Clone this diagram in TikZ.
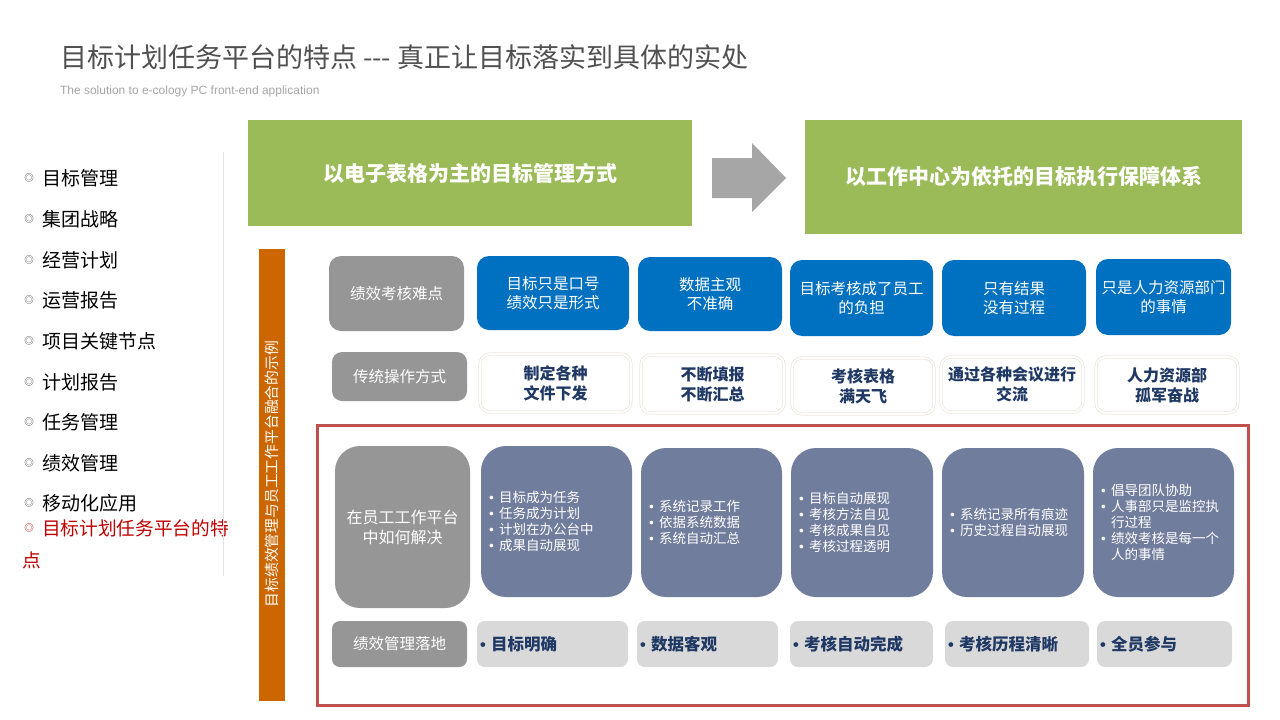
\documentclass[tikz,border=0pt]{standalone}
\usepackage{fontspec}
\setmainfont{Noto Sans CJK SC}
\newfontfamily\latinsans{Liberation Sans}
\definecolor{titlegray}{RGB}{80,80,80}
\definecolor{subgray}{RGB}{166,166,166}
\definecolor{hgreen}{RGB}{155,187,89}
\definecolor{arrowgray}{RGB}{166,166,166}
\definecolor{barorange}{RGB}{204,102,0}
\definecolor{boxgray}{RGB}{150,150,150}
\definecolor{boxblue}{RGB}{0,112,192}
\definecolor{slate}{RGB}{113,125,157}
\definecolor{lightgray}{RGB}{217,217,217}
\definecolor{navy}{RGB}{31,56,100}
\definecolor{framered}{RGB}{192,80,77}
\definecolor{beige}{RGB}{236,233,222}
\definecolor{seplight}{RGB}{228,228,228}
\definecolor{listred}{RGB}{192,0,0}
\definecolor{dotcol}{RGB}{60,60,60}
\newcommand\fs[2]{\fontsize{#1}{#2}\selectfont}
\newcommand\bl[1]{\makebox[10pt][l]{\latinsans •}#1}
\newcommand\blc[1]{\hspace*{10pt}#1}
\newcommand\blb[1]{\makebox[11pt][l]{\latinsans •}#1}
\begin{document}
\begin{tikzpicture}[x=1pt,y=-1pt,
  every node/.style={inner sep=0pt, outer sep=0pt},
  listitem/.style={anchor=west, text=black, font=\fs{19}{22}},
  listdot/.style={text=dotcol, font=\fs{9.5}{10}},
  header/.style={fill=hgreen, text=white, font=\fs{21}{24}\bfseries, align=center},
  graybox/.style={fill=boxgray, rounded corners=12pt, text=white, font=\fs{15.5}{19}, align=center},
  bluebox/.style={fill=boxblue, rounded corners=12pt, text=white, font=\fs{15.5}{19}, align=center},
  whitebox/.style={draw=beige, line width=0.8pt, double=white, double distance=1.6pt, fill=white, rounded corners=10pt, text=navy, font=\fs{16}{20}\bfseries, align=center},
  slatebox/.style={fill=slate, rounded corners=25pt, text=white, font=\fs{13.5}{16}, align=left, inner xsep=8pt},
  landbox/.style={fill=lightgray, rounded corners=8pt, text=navy, font=\fs{16.5}{20}\bfseries, align=left, inner xsep=3pt}
]
\useasboundingbox[fill=white] (0,0) rectangle (1280,720);

% title
\node[anchor=west, text=titlegray, font=\fs{27}{32}] (title) at (60,57) {目标计划任务平台的特点 -{}-{}- 真正让目标落实到具体的实处};
\node[anchor=west, text=subgray, font=\latinsans\fs{12}{14}] (subtitle) at (60,91) {The solution to e-cology PC front-end application};

% left list
\foreach \y/\t/\n in {178/目标管理/1, 219/集团战略/2, 260/经营计划/3, 300/运营报告/4, 341/项目关键节点/5, 382/计划报告/6, 422/任务管理/7, 463/绩效管理/8, 503/移动化应用/9}{
  \node[listdot] (dot\n) at (29,\y) {◎};
  \node[listitem] (item\n) at (42,\y) {\t};
}
\node[listdot, text=listred] (dot10) at (29,528) {◎};
\node[listitem, text=listred, font=\fs{18.7}{22}] (item10) at (42,528) {目标计划任务平台的特};
\node[listitem, text=listred, font=\fs{18.7}{22}] (item10b) at (23,560) {点};
\draw[seplight, line width=1pt] (223,152) -- (223,576);

% headers
\node[header, minimum width=444pt, minimum height=106pt] (h1) at (470,173) {以电子表格为主的目标管理方式};
\node[header, minimum width=437pt, minimum height=114pt] (h2) at (1023.5,177) {以工作中心为依托的目标执行保障体系};
\fill[arrowgray] (712,158) -- (752,158) -- (752,143) -- (786,178) -- (752,212) -- (752,198) -- (712,198) -- cycle;

% orange bar
\node[fill=barorange, minimum width=26pt, minimum height=452pt] (bar) at (272,475) {};
\node[rotate=90, text=white, font=\fs{14.8}{17}] (bartext) at (272,474) {目标绩效管理与员工工作平台融合的示例};

% row 1
\node[graybox, minimum width=135pt, minimum height=75pt] (g1) at (396.5,293.5) {绩效考核难点};
\node[bluebox, minimum width=152pt, minimum height=74pt] (b1) at (553,293) {目标只是口号\\绩效只是形式};
\node[bluebox, minimum width=144pt, minimum height=74pt] (b2) at (710,294) {数据主观\\不准确};
\node[bluebox, minimum width=143pt, minimum height=76pt] (b3) at (861.5,298) {目标考核成了员工\\的负担};
\node[bluebox, minimum width=144pt, minimum height=76pt] (b4) at (1014,298) {只有结果\\没有过程};
\node[bluebox, minimum width=135pt, minimum height=76pt] (b5) at (1163.5,297) {只是人力资源部门\\的事情};

% row 2
\node[graybox, rounded corners=10pt, minimum width=135pt, minimum height=49pt] (g2) at (399.5,376.5) {传统操作方式};
\node[whitebox, minimum width=151pt, minimum height=58pt] (w1) at (555.5,383) {制定各种\\文件下发};
\node[whitebox, minimum width=143pt, minimum height=58pt] (w2) at (712.5,384) {不断填报\\不断汇总};
\node[whitebox, minimum width=142pt, minimum height=56pt] (w3) at (863,386) {考核表格\\满天飞};
\node[whitebox, minimum width=142pt, minimum height=55pt] (w4) at (1012,384.5) {通过各种会议进行\\交流};
\node[whitebox, minimum width=142pt, minimum height=56pt] (w5) at (1167,385) {人力资源部\\孤军奋战};

% red frame
\draw[framered, line width=3pt] (317,425) rectangle (1248,705);

% row 3
\node[graybox, rounded corners=25pt, font=\fs{16}{20}, minimum width=135pt, minimum height=162pt] (g3) at (402.5,527) {在员工工作平台\\中如何解决};
\node[slatebox, text width=135pt, minimum height=151pt] (s1) at (556.5,521.5) {\bl{目标成为任务}\\\bl{任务成为计划}\\\bl{计划在办公台中}\\\bl{成果自动展现}};
\node[slatebox, text width=125pt, minimum height=149pt] (s2) at (711.5,522.5) {\bl{系统记录工作}\\\bl{依据系统数据}\\\bl{系统自动汇总}};
\node[slatebox, text width=126pt, minimum height=149pt] (s3) at (862,522.5) {\bl{目标自动展现}\\\bl{考核方法自见}\\\bl{考核成果自见}\\\bl{考核过程透明}};
\node[slatebox, text width=126pt, minimum height=149pt] (s4) at (1013,522.5) {\bl{系统记录所有痕迹}\\\bl{历史过程自动展现}};
\node[slatebox, text width=125pt, minimum height=149pt] (s5) at (1163.5,522.5) {\bl{倡导团队协助}\\\bl{人事部只是监控执}\\\blc{行过程}\\\bl{绩效考核是每一个}\\\blc{人的事情}};

% row 4
\node[graybox, rounded corners=8pt, minimum width=135pt, minimum height=46pt] (g4) at (399.5,644) {绩效管理落地};
\node[landbox, text width=145pt, minimum height=46pt] (l1) at (552.5,644) {\blb{目标明确}};
\node[landbox, text width=135pt, minimum height=46pt] (l2) at (707.5,644) {\blb{数据客观}};
\node[landbox, text width=137pt, minimum height=46pt] (l3) at (861.5,644) {\blb{考核自动完成}};
\node[landbox, text width=138pt, minimum height=46pt] (l4) at (1017,644) {\blb{考核历程清晰}};
\node[landbox, text width=129pt, minimum height=46pt] (l5) at (1164.5,644) {\blb{全员参与}};
\end{tikzpicture}
\end{document}
